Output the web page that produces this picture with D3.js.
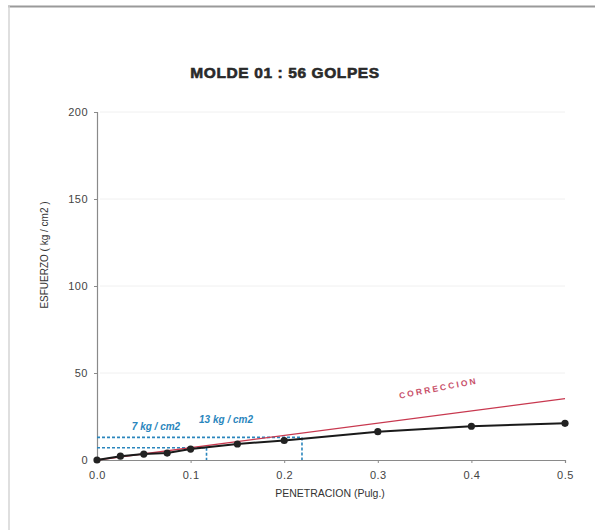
<!DOCTYPE html>
<html>
<head>
<meta charset="utf-8">
<script src="https://cdn.jsdelivr.net/npm/d3@7/dist/d3.min.js"></script>
<style>
  html, body { margin: 0; padding: 0; background: #fff; }
  svg { display: block; font-family: "Liberation Sans", Arial, sans-serif; }
</style>
</head>
<body>
<svg id="chart" width="595" height="530"></svg>
<script>
// Penetration (in) vs. stress (kg/cm2) readings for the mould
const penetration = [0, 0.025, 0.05, 0.075, 0.1, 0.15, 0.2, 0.3, 0.4, 0.5];
const stress      = [0, 2.2, 3.4, 4.0, 6.3, 9.2, 11.2, 16.3, 19.4, 21.1];

// Corrected curve (straight line)
const corrPen    = [0, 0.5];
const corrStress = [0, 35.3];

// Readings taken from the corrected curve
const readPen    = [0.117, 0.219];
const readStress = [7, 13];
const readLabels = ["7 kg / cm2", "13 kg / cm2"];

const xTicks = [0, 0.1, 0.2, 0.3, 0.4, 0.5];
const yTicks = [0, 50, 100, 150, 200];

const svg = d3.select("#chart");

// page frame
svg.append("line").attr("x1", 8).attr("x2", 595).attr("y1", 6.5).attr("y2", 6.5)
  .attr("stroke", "#9a9a9a").attr("stroke-width", 2);
svg.append("line").attr("x1", 9).attr("x2", 9).attr("y1", 6).attr("y2", 530)
  .attr("stroke", "#d4d4d4").attr("stroke-width", 1.5);

const x = d3.scaleLinear().domain([0, 0.5]).range([97, 565]);
const y = d3.scaleLinear().domain([0, 200]).range([460, 112]);

// title
svg.append("text").attr("x", 285).attr("y", 78).attr("text-anchor", "middle")
  .attr("font-size", 15.5).attr("font-weight", 900).attr("fill", "#2a2a2a")
  .attr("stroke", "#2a2a2a").attr("stroke-width", 0.6)
  .attr("letter-spacing", 0.6)
  .text("MOLDE 01 : 56 GOLPES");

// faint horizontal grid
svg.append("g").selectAll("line").data(yTicks.filter(d => d > 0)).join("line")
  .attr("x1", x(0) + 3).attr("x2", x(0.5)).attr("y1", d => y(d)).attr("y2", d => y(d))
  .attr("stroke", "#f0f0f0").attr("stroke-width", 1);

// axes
const yAxis = svg.append("g").attr("transform", `translate(${x(0)},0)`)
  .call(d3.axisLeft(y).tickValues(yTicks).tickSize(3).tickPadding(6).tickFormat(d3.format("d")));
const xAxis = svg.append("g").attr("transform", `translate(0,${y(0)})`)
  .call(d3.axisBottom(x).tickValues(xTicks).tickSize(3).tickPadding(8).tickFormat(d3.format(".1f")));
[xAxis, yAxis].forEach(g => {
  g.select(".domain").attr("stroke", "#8a8a8a").attr("stroke-width", 1.2);
  g.selectAll(".tick line").attr("stroke", "#8a8a8a");
  g.selectAll(".tick text").attr("fill", "#444").attr("font-size", 11)
    .attr("letter-spacing", 0.5)
    .attr("font-family", "Liberation Sans, Arial, sans-serif");
});

// axis titles
svg.append("text").attr("transform", "translate(48,255) rotate(-90)")
  .attr("text-anchor", "middle").attr("font-size", 10).attr("fill", "#333")
  .text("ESFUERZO ( kg / cm2 )");
svg.append("text").attr("x", 330).attr("y", 497).attr("text-anchor", "middle")
  .attr("font-size", 10.5).attr("fill", "#333")
  .text("PENETRACION (Pulg.)");

// dashed reading guides
const blue = "#2a86bd";
const guides = svg.append("g").attr("stroke", blue).attr("stroke-width", 1.6)
  .attr("stroke-dasharray", "3,2").attr("fill", "none");
readPen.forEach((p, i) => {
  guides.append("line").attr("x1", x(0)).attr("x2", x(p))
    .attr("y1", y(readStress[i])).attr("y2", y(readStress[i]));
  guides.append("line").attr("x1", x(p)).attr("x2", x(p))
    .attr("y1", y(readStress[i])).attr("y2", y(0));
});

// reading labels
const labelPos = [[156, 430], [226, 423]];
readLabels.forEach((t, i) => {
  svg.append("text").attr("x", labelPos[i][0]).attr("y", labelPos[i][1])
    .attr("text-anchor", "middle").attr("font-size", 10).attr("font-weight", "bold")
    .attr("font-style", "italic").attr("fill", blue).text(t);
});

// corrected line
const corr = corrPen.map((p, i) => [p, corrStress[i]]);
svg.append("path").datum(corr)
  .attr("d", d3.line().x(d => x(d[0])).y(d => y(d[1])))
  .attr("stroke", "#c8384f").attr("stroke-width", 1.3).attr("fill", "none");
svg.append("text").attr("transform", "translate(439,391) rotate(-11)")
  .attr("text-anchor", "middle").attr("font-size", 8.5).attr("font-weight", "bold")
  .attr("letter-spacing", 2.2).attr("fill", "#c8506a")
  .text("CORRECCION");

// test curve
const pts = penetration.map((p, i) => [p, stress[i]]);
svg.append("path").datum(pts)
  .attr("d", d3.line().x(d => x(d[0])).y(d => y(d[1])))
  .attr("stroke", "#1a1a1a").attr("stroke-width", 2).attr("fill", "none");
svg.append("g").selectAll("circle").data(pts).join("circle")
  .attr("cx", d => x(d[0])).attr("cy", d => y(d[1])).attr("r", 3.6)
  .attr("fill", "#222");
</script>
</body>
</html>
